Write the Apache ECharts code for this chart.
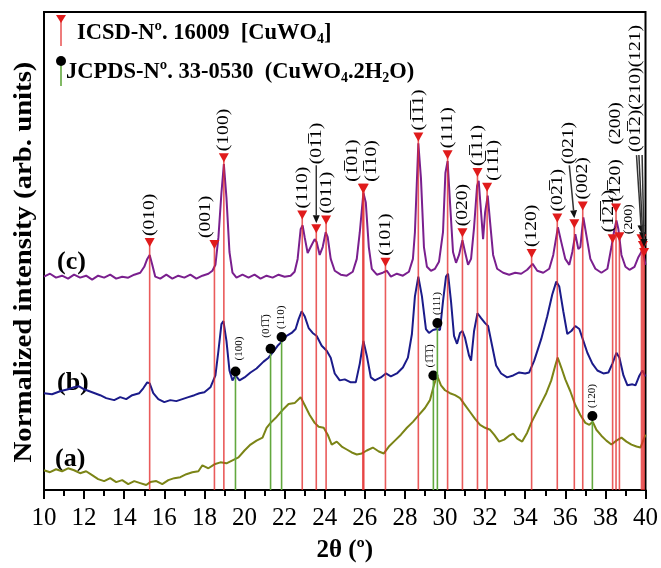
<!DOCTYPE html>
<html><head><meta charset="utf-8">
<script src="https://cdn.jsdelivr.net/npm/echarts@6/dist/echarts.min.js"></script>
<style>html,body{margin:0;padding:0;background:#fff}#c{width:661px;height:568px}</style>
</head><body><div id="c"></div>
<script>
// ---------- DATA (2θ in degrees, normalized intensity in arbitrary units) ----------
const xTicks = [10,12,14,16,18,20,22,24,26,28,30,32,34,36,38,40];

const seriesC = [[10.0,216],[10.3,219],[10.6,215],[10.9,217],[11.2,214],[11.5,218],[11.8,215],[12.1,217],[12.4,213],[12.7,217],[13.0,215],[13.3,218],[13.6,214],[13.9,216],[14.2,215],[14.5,218],[14.8,220],[15.0,226],[15.15,234],[15.27,238],[15.4,228],[15.55,216],[15.8,214],[16.1,218],[16.4,214],[16.7,217],[17.0,215],[17.3,218],[17.6,214],[17.9,217],[18.2,219],[18.4,222],[18.55,228],[18.7,256],[18.85,301],[18.97,330],[19.1,296],[19.25,241],[19.4,220],[19.6,215],[19.9,218],[20.2,215],[20.5,218],[20.8,214],[21.1,217],[21.4,215],[21.7,218],[22.0,216],[22.3,217],[22.5,221],[22.65,234],[22.8,264],[22.9,268],[23.0,256],[23.15,240],[23.3,246],[23.5,254],[23.6,251],[23.75,238],[23.9,246],[24.05,261],[24.15,256],[24.3,234],[24.5,222],[24.8,218],[25.1,217],[25.4,221],[25.6,234],[25.75,261],[25.93,301],[26.05,291],[26.2,246],[26.35,224],[26.6,218],[26.9,220],[27.1,222],[27.3,216],[27.6,219],[27.9,217],[28.2,221],[28.4,234],[28.5,261],[28.67,351],[28.8,316],[28.95,246],[29.1,226],[29.3,222],[29.5,224],[29.7,231],[29.9,261],[30.02,321],[30.13,333],[30.25,291],[30.4,241],[30.55,230],[30.7,238],[30.87,253],[31.0,241],[31.15,228],[31.3,234],[31.45,266],[31.6,308],[31.68,313],[31.8,281],[31.9,254],[32.0,281],[32.13,298],[32.25,271],[32.4,238],[32.6,224],[32.9,220],[33.2,218],[33.5,220],[33.8,219],[34.1,223],[34.37,229],[34.6,222],[34.9,220],[35.2,224],[35.4,238],[35.63,266],[35.8,251],[36.0,234],[36.2,228],[36.35,241],[36.5,259],[36.65,244],[36.75,246],[36.9,276],[37.05,258],[37.25,234],[37.5,224],[37.8,220],[38.1,224],[38.3,246],[38.45,264],[38.55,273],[38.65,264],[38.8,238],[39.0,226],[39.2,223],[39.45,226],[39.65,236],[39.85,243],[40.0,228]];

const seriesB = [[10.0,98],[10.4,97],[10.8,100],[11.2,102],[11.5,104],[11.75,105],[12.0,102],[12.4,99],[12.8,96],[13.1,93],[13.5,91],[13.8,94],[14.1,92],[14.4,96],[14.75,98],[14.95,103],[15.15,109],[15.27,108],[15.45,98],[15.7,92],[16.0,89],[16.3,91],[16.6,90],[16.9,92],[17.2,94],[17.5,96],[17.75,98],[18.0,99],[18.3,104],[18.55,116],[18.7,141],[18.85,168],[18.95,171],[19.1,151],[19.25,121],[19.4,111],[19.55,116],[19.75,111],[20.0,114],[20.3,119],[20.6,123],[20.95,130],[21.2,134],[21.4,139],[21.65,146],[21.9,151],[22.1,156],[22.35,159],[22.55,163],[22.7,173],[22.85,181],[23.0,176],[23.2,164],[23.4,159],[23.6,156],[23.85,146],[24.1,141],[24.3,134],[24.5,118],[24.75,111],[25.0,112],[25.3,109],[25.55,109],[25.75,128],[25.93,151],[26.1,136],[26.3,114],[26.5,111],[26.8,114],[27.05,118],[27.3,115],[27.6,118],[27.9,124],[28.15,134],[28.35,158],[28.5,196],[28.67,216],[28.85,196],[29.05,163],[29.2,159],[29.4,162],[29.6,163],[29.75,162],[29.9,191],[30.05,216],[30.15,219],[30.3,191],[30.45,156],[30.6,148],[30.75,159],[30.87,161],[31.0,154],[31.2,136],[31.3,131],[31.45,161],[31.62,179],[31.8,174],[32.0,169],[32.15,166],[32.35,146],[32.55,126],[32.8,118],[33.1,114],[33.4,116],[33.7,119],[34.0,118],[34.2,119],[34.45,131],[34.8,153],[35.1,176],[35.35,198],[35.55,211],[35.7,206],[35.9,181],[36.1,158],[36.3,161],[36.5,166],[36.7,163],[36.9,151],[37.1,139],[37.35,128],[37.6,121],[37.9,118],[38.15,119],[38.35,128],[38.55,139],[38.7,134],[38.9,116],[39.1,106],[39.35,107],[39.5,106],[39.7,116],[39.85,121],[40.0,115]];

const seriesA = [[10.0,20],[10.3,18],[10.6,21],[10.9,19],[11.2,22],[11.5,20],[11.8,17],[12.1,19],[12.4,15],[12.7,11],[13.0,9],[13.3,12],[13.6,8],[13.9,10],[14.2,6],[14.5,9],[14.8,7],[15.1,5],[15.3,8],[15.6,9],[15.9,6],[16.2,10],[16.5,12],[16.8,13],[17.1,16],[17.4,18],[17.7,19],[17.9,25],[18.2,22],[18.5,26],[18.8,28],[19.1,27],[19.4,30],[19.7,33],[20.0,40],[20.3,46],[20.6,50],[20.9,53],[21.1,63],[21.3,68],[21.6,74],[21.9,81],[22.2,87],[22.5,88],[22.8,94],[23.0,86],[23.25,76],[23.5,68],[23.7,64],[23.95,63],[24.15,56],[24.35,46],[24.6,49],[24.85,44],[25.1,41],[25.35,38],[25.6,36],[25.85,37],[26.1,40],[26.4,43],[26.7,39],[26.95,37],[27.2,44],[27.5,50],[27.8,56],[28.1,63],[28.4,69],[28.7,76],[29.0,83],[29.25,91],[29.45,106],[29.6,116],[29.8,106],[30.0,101],[30.25,98],[30.5,96],[30.75,93],[31.0,86],[31.25,79],[31.5,72],[31.75,66],[32.0,63],[32.25,61],[32.45,56],[32.7,49],[32.95,51],[33.2,55],[33.4,57],[33.6,52],[33.85,49],[34.1,58],[34.3,68],[34.55,78],[34.8,88],[35.05,98],[35.3,111],[35.5,126],[35.62,134],[35.8,124],[36.0,112],[36.25,100],[36.5,86],[36.75,76],[37.0,68],[37.2,66],[37.37,69],[37.55,61],[37.8,55],[38.05,50],[38.3,46],[38.55,50],[38.8,53],[39.05,49],[39.3,46],[39.55,44],[39.75,43],[39.9,51],[40.0,56]];

// ICSD-16009 (CuWO4) reference reflections
const icsdTheta  = [15.27,18.5,18.97,22.88,23.58,24.07,25.9,25.95,27.03,28.67,30.13,30.87,31.62,32.1,34.32,35.6,36.45,36.87,38.36,38.53,38.7,39.8,39.87,39.93];
const icsdTop    = [250,248,336,278,264,273,305,305,230,357,339,260,321,306,239,275,269,287,254,285,256,254,247,240];
const icsdLabels = ['(010)','(001)','(100)','(110)','(01\u03051)','(011)','(1\u030501)','(1\u030510)','(101)','(1\u03051\u03051)','(111)','(020)','(1\u030511)','(11\u03051)','(120)','(02\u03051)','(021)','(002)','(1\u03052\u03051)','(1\u030520)   (200)','(200)','','(01\u03052)(210)(121)',''];

// JCPDS 33-0530 (CuWO4.2H2O) reference reflections
const jcpdsTheta  = [19.55,21.3,21.85,29.42,29.62,37.35];
const jcpdsTop    = [120,143,155,116,169,75];
const jcpdsLabels = ['(100)','(01\u03051\u0305)','(110)','(1\u03051\u03051\u0305)','(111)','(120)'];

// ---------- STYLE / LAYOUT ----------
const SERIF = '"Liberation Serif","Times New Roman",serif';
const RED_LINE = 'rgba(228,45,45,0.78)';
const RED = '#e01b1b';
const GREEN = '#62a83e';
const LABEL_STRETCH = 1.15;   // reference text is slightly elongated along its rotated direction
// label placement tweaks (pixels) keyed by ICSD index
const icsdLayout = {
  1: {dx: -9},
  4: {gap: 65, arrow: [0, -64]},
  6: {dx: -10},
  7: {dx: 8},
  13: {dx: 6},
  16: {dx: -6, gap: 60, arrow: [-5, -59]},
  18: {dx: -4},
  20: {dx: 9, gap: 3, small: true},
  21: {arrow: [-5, -84]},
  22: {dx: -7, gap: 94, arrow: [-4, -91]},
  23: {arrow: [-2, -98]}
};
const jcpdsLayout = {0: {dx: 4, gap: 11}, 1: {dx: -4, gap: 11}, 3: {dx: -3}};

function arrowEls(sx, sy, ex, ey) {
  const dx = ex - sx, dy = ey - sy, len = Math.hypot(dx, dy);
  const ux = dx / len, uy = dy / len, hl = 8, hw = 3.5;
  const bx = ex - ux * hl, by = ey - uy * hl;
  return [
    {type: 'line', shape: {x1: sx, y1: sy, x2: bx, y2: by}, style: {stroke: '#333', lineWidth: 1.5}},
    {type: 'polygon', shape: {points: [[ex, ey], [bx - uy * hw, by + ux * hw], [bx + uy * hw, by - ux * hw]]}, style: {fill: '#111'}}
  ];
}

function icsdRender(params, api) {
  const i = params.dataIndex;
  const p0 = api.coord([api.value(0), 0]);
  const p1 = api.coord([api.value(0), api.value(1)]);
  const L = icsdLayout[i] || {};
  const ch = [
    {type: 'line', shape: {x1: p0[0], y1: p0[1], x2: p1[0], y2: p1[1]}, style: {stroke: RED_LINE, lineWidth: 1.6}},
    {type: 'polygon', shape: {points: [[p1[0] - 5, p1[1] - 5], [p1[0] + 5, p1[1] - 5], [p1[0], p1[1] + 4]]}, style: {fill: RED}}
  ];
  const label = icsdLabels[i];
  if (label) {
    const gap = L.gap != null ? L.gap : 7;
    ch.push({type: 'text', x: p1[0] + (L.dx || 0), y: p1[1] - gap, rotation: Math.PI / 2, scaleX: LABEL_STRETCH,
      style: {text: label, fontFamily: SERIF, fontSize: L.small ? 12 : 17, fill: '#000', align: 'left', verticalAlign: 'middle'}});
  }
  if (L.arrow) {
    ch.push(...arrowEls(p1[0] + L.arrow[0], p1[1] + L.arrow[1], p1[0], p1[1] - 6));
  }
  return {type: 'group', children: ch};
}

function jcpdsRender(params, api) {
  const i = params.dataIndex;
  const p0 = api.coord([api.value(0), 0]);
  const p1 = api.coord([api.value(0), api.value(1)]);
  const L = jcpdsLayout[i] || {};
  const gap = L.gap != null ? L.gap : 8;
  return {type: 'group', children: [
    {type: 'line', shape: {x1: p0[0], y1: p0[1], x2: p1[0], y2: p1[1]}, style: {stroke: GREEN, lineWidth: 1.6}},
    {type: 'circle', shape: {cx: p1[0], cy: p1[1], r: 5}, style: {fill: '#000'}},
    {type: 'text', x: p1[0] + (L.dx || 0), y: p1[1] - gap, rotation: Math.PI / 2,
      style: {text: jcpdsLabels[i], fontFamily: SERIF, fontSize: 11, fill: '#000', align: 'left', verticalAlign: 'middle'}}
  ]};
}

const chart = echarts.init(document.getElementById('c'), null, {renderer: 'canvas'});
const lineBase = {type: 'line', showSymbol: false, symbol: 'none', smooth: false, z: 2, animation: false};
const legendRich = {
  b: {fontFamily: SERIF, fontSize: 22.5, fontWeight: 'bold', lineHeight: 26, fill: '#000'},
  s: {fontFamily: SERIF, fontSize: 14, fontWeight: 'bold', lineHeight: 11, verticalAlign: 'bottom', fill: '#000'}
};
chart.setOption({
  animation: false,
  backgroundColor: '#fff',
  grid: {left: 44, right: 14, top: 12, bottom: 72, show: true, borderColor: '#000', borderWidth: 2, backgroundColor: 'transparent'},
  xAxis: {
    type: 'value', min: xTicks[0], max: xTicks[xTicks.length - 1], interval: 2,
    axisLine: {lineStyle: {color: '#000', width: 2}},
    axisTick: {length: 9, lineStyle: {color: '#000', width: 2}},
    minorTick: {show: true, splitNumber: 2, length: 6, lineStyle: {color: '#000', width: 2}},
    splitLine: {show: false},
    axisLabel: {fontFamily: SERIF, fontSize: 25, color: '#000', margin: 16},
    name: '2θ (º)', nameLocation: 'middle', nameGap: 48,
    nameTextStyle: {fontFamily: SERIF, fontSize: 25, fontWeight: 'bold', color: '#000'}
  },
  yAxis: {
    type: 'value', min: 0, max: 484,
    axisLine: {show: true, lineStyle: {color: '#000', width: 2}},
    axisTick: {show: false}, axisLabel: {show: false}, splitLine: {show: false}
  },
  series: [
    Object.assign({}, lineBase, {name: '(c)', data: seriesC, lineStyle: {color: '#7a1f8e', width: 2}}),
    Object.assign({}, lineBase, {name: '(b)', data: seriesB, lineStyle: {color: '#1b1b8a', width: 2}}),
    Object.assign({}, lineBase, {name: '(a)', data: seriesA, lineStyle: {color: '#7b8416', width: 2}}),
    {type: 'custom', name: 'ICSD', z: 5, clip: false, renderItem: icsdRender,
      data: icsdTheta.map((t, i) => [t, icsdTop[i]]), encode: {x: 0, y: 1}},
    {type: 'custom', name: 'JCPDS', z: 5, clip: false, renderItem: jcpdsRender,
      data: jcpdsTheta.map((t, i) => [t, jcpdsTop[i]]), encode: {x: 0, y: 1}}
  ],
  graphic: [
    {type: 'text', x: 25, y: 262, rotation: Math.PI / 2, scaleX: LABEL_STRETCH, style: {text: 'Normalized intensity (arb. units)', fontFamily: SERIF, fontSize: 25, fontWeight: 'bold', fill: '#000', align: 'center', verticalAlign: 'middle'}},
    {type: 'text', x: 57, y: 262, style: {text: '(c)', fontFamily: SERIF, fontSize: 26, fontWeight: 'bold', fill: '#000', align: 'left', verticalAlign: 'middle'}},
    {type: 'text', x: 57, y: 383, style: {text: '(b)', fontFamily: SERIF, fontSize: 26, fontWeight: 'bold', fill: '#000', align: 'left', verticalAlign: 'middle'}},
    {type: 'text', x: 55, y: 459, style: {text: '(a)', fontFamily: SERIF, fontSize: 26, fontWeight: 'bold', fill: '#000', align: 'left', verticalAlign: 'middle'}},
    // legend
    {type: 'line', shape: {x1: 61, y1: 19, x2: 61, y2: 46}, style: {stroke: RED_LINE, lineWidth: 1.6}},
    {type: 'polygon', shape: {points: [[56, 15], [66, 15], [61, 23]]}, style: {fill: RED}},
    {type: 'text', x: 77, y: 33, style: {text: '{b|ICSD-Nº. 16009  [CuWO}{s|4}{b|]}', align: 'left', verticalAlign: 'middle', rich: legendRich}},
    {type: 'line', shape: {x1: 61, y1: 62, x2: 61, y2: 86}, style: {stroke: GREEN, lineWidth: 1.6}},
    {type: 'circle', shape: {cx: 61, cy: 61, r: 5}, style: {fill: '#000'}},
    {type: 'text', x: 66, y: 72, style: {text: '{b|JCPDS-Nº. 33-0530  (CuWO}{s|4}{b|.2H}{s|2}{b|O)}', align: 'left', verticalAlign: 'middle', rich: legendRich}}
  ]
});
</script></body></html>
